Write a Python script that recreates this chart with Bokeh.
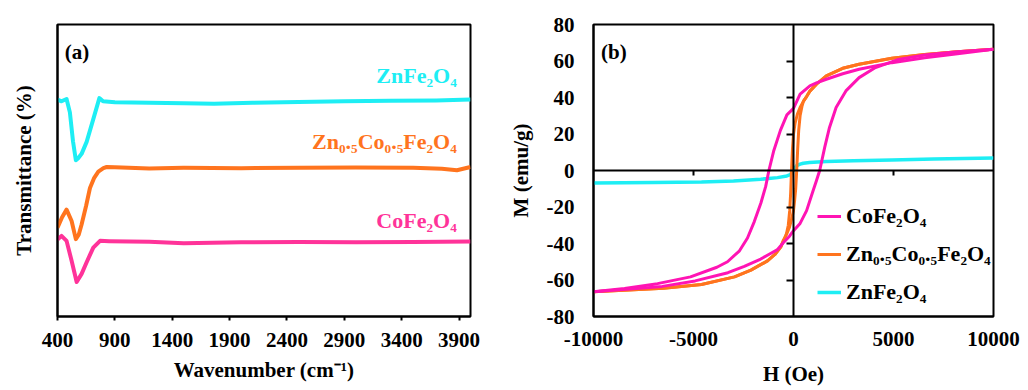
from bokeh.plotting import figure
from bokeh.models import Range1d, FixedTicker, LinearAxis, Label, Legend, LegendItem
from bokeh.layouts import row
from bokeh.embed import file_html
from bokeh.resources import INLINE

FONT = "Liberation Serif"

# ---------------- (a) FTIR data ----------------
ftir_ticks = [400, 900, 1400, 1900, 2400, 2900, 3400, 3900]

wn_zn = [400, 435, 479, 508, 535, 560, 580, 610, 654, 712, 765, 797, 900, 1200, 1500, 1765, 2100, 2500, 2900, 3300, 3700, 4000]
t_zn = [74.3, 73.7, 74.5, 69.9, 60.0, 53.5, 54.2, 55.7, 59.8, 67.6, 74.8, 73.7, 73.4, 73.2, 73.0, 72.9, 73.2, 73.5, 73.7, 73.9, 74.0, 74.3]

wn_znco = [400, 440, 479, 523, 560, 585, 610, 650, 683, 720, 756, 800, 829, 900, 1200, 1500, 2000, 2500, 3000, 3500, 3750, 3882, 4000]
t_znco = [30.4, 34.0, 36.6, 32.7, 26.5, 28.0, 31.5, 38.0, 44.0, 47.5, 49.6, 50.8, 51.2, 51.1, 50.7, 50.9, 50.8, 50.9, 51.0, 50.9, 50.6, 50.1, 51.2]

wn_co = [400, 435, 479, 523, 567, 610, 654, 712, 771, 850, 1200, 1500, 2000, 2500, 3000, 3500, 4000]
t_co = [26.4, 27.6, 25.9, 19.1, 11.8, 14.6, 18.6, 23.6, 25.9, 25.8, 25.6, 25.1, 25.4, 25.5, 25.4, 25.5, 25.7]

ftir_names = ["ZnFe\u2082O\u2084", "Zn\u2080.\u2085Co\u2080.\u2085Fe\u2082O\u2084", "CoFe\u2082O\u2084"]

# ---------------- (b) VSM data ----------------
vsm_xticks = [-10000, -5000, 0, 5000, 10000]
vsm_yticks = [-80, -60, -40, -20, 0, 20, 40, 60, 80]

h_co_down = [10000, 8200, 6560, 4920, 3280, 2460, 1640, 1150, 820, 330, 0, -330, -655, -983, -1230, -1390, -1630, -1960, -2300, -2700, -3300, -3830, -5150, -6800, -8450, -10000]
m_co_down = [66.4, 64.0, 61.8, 59.1, 55.5, 53.0, 50.0, 48.0, 46.4, 41.8, 34.0, 30.5, 22.0, 11.0, 0.0, -8.7, -17.8, -28.0, -37.0, -44.0, -50.0, -53.0, -58.3, -62.0, -64.6, -66.4]
h_co_up = [-10000, -8200, -6560, -4920, -3280, -2460, -1640, -1150, -820, -500, -200, 0, 330, 655, 983, 1150, 1310, 1560, 1800, 2130, 2620, 3280, 4100, 5250, 6560, 8200, 10000]
m_co_up = [-66.4, -65.0, -63.5, -60.5, -56.0, -52.5, -48.5, -45.5, -43.5, -39.5, -36.0, -33.0, -29.0, -22.0, -11.0, -5.5, 0.0, 12.7, 23.6, 34.5, 43.6, 50.9, 56.4, 60.9, 63.3, 65.1, 66.4]

h_znco_down = [10000, 8200, 6560, 4920, 3280, 2460, 1640, 1150, 820, 655, 500, 350, 200, 80, 0, -50, -100, -140, -190, -260, -350, -430, -640, -930, -1300, -2130, -2950, -4600, -6500, -8500, -10000]
m_znco_down = [66.4, 65.1, 63.6, 61.5, 58.2, 56.0, 51.8, 47.3, 43.5, 40.5, 38.0, 35.0, 31.0, 26.0, 20.0, 12.0, 0.0, -12.0, -22.0, -30.0, -34.5, -37.0, -42.0, -46.0, -49.5, -54.6, -58.3, -62.5, -64.5, -65.6, -66.4]
h_znco_up = [-10000, -8500, -6500, -4600, -2950, -2130, -1300, -930, -640, -500, -350, -200, -80, 0, 60, 110, 160, 210, 260, 330, 420, 500, 655, 820, 1150, 1640, 2460, 3280, 4920, 6560, 8200, 10000]
m_znco_up = [-66.4, -65.6, -64.5, -62.5, -58.3, -54.6, -49.5, -46.0, -42.0, -38.0, -35.0, -31.0, -26.0, -22.0, -16.0, -10.0, 0.0, 12.0, 22.0, 30.0, 35.0, 38.0, 40.5, 43.5, 47.3, 51.8, 56.0, 58.2, 61.5, 63.6, 65.1, 66.4]

h_zn = [-10000, -7000, -4600, -3000, -1640, -800, -330, -160, -80, 0, 80, 160, 330, 490, 800, 1640, 3000, 4920, 7000, 10000]
m_zn = [-6.9, -6.6, -6.3, -5.7, -4.8, -3.9, -3.0, -2.3, -1.2, 0.3, 1.5, 2.7, 3.5, 4.0, 4.4, 4.9, 5.3, 5.8, 6.3, 6.9]

vsm_names = ["CoFe\u2082O\u2084", "Zn\u2080.\u2085Co\u2080.\u2085Fe\u2082O\u2084", "ZnFe\u2082O\u2084"]

C_CYAN = "#1EEEF4"
C_ORANGE = "#FF741E"
C_PINK_A = "#FF3399"
C_PINK_B = "#FF14B4"


def style_common(p):
    p.grid.visible = False
    p.outline_line_color = "black"
    p.outline_line_width = 2
    p.background_fill_color = "white"
    p.border_fill_color = "white"
    for ax in p.axis:
        ax.major_label_text_font = FONT
        ax.major_label_text_font_style = "bold"
        ax.major_label_text_font_size = "21px"
        ax.major_label_text_color = "black"
        ax.axis_label_text_font = FONT
        ax.axis_label_text_font_style = "bold"
        ax.axis_label_text_font_size = "21px"
        ax.axis_label_text_color = "black"
        ax.minor_tick_line_color = None
        ax.axis_line_color = "black"
        ax.axis_line_width = 2
        ax.major_tick_line_color = "black"
        ax.major_tick_line_width = 2


# ---------------- figure (a) ----------------
p1 = figure(width=505, height=390, x_range=Range1d(400, 4000), y_range=Range1d(0, 100),
            output_backend="svg", toolbar_location=None,
            min_border_left=57, min_border_right=35, min_border_top=24, min_border_bottom=70)
style_common(p1)
p1.xaxis.ticker = FixedTicker(ticks=ftir_ticks)
p1.xaxis.major_tick_in = 0
p1.xaxis.major_tick_out = 4
p1.xaxis.major_label_standoff = 12
p1.xaxis.axis_label = "Wavenumber (cm\u207B\u00B9)"
p1.xaxis.axis_label_standoff = 8
p1.yaxis.ticker = FixedTicker(ticks=[])
p1.yaxis.major_tick_out = 0
p1.yaxis.major_tick_in = 0
p1.yaxis.axis_label = "Transmittance (%)"
p1.yaxis.axis_label_standoff = 22

p1.line(wn_zn, t_zn, line_color=C_CYAN, line_width=4, line_join="round")
p1.line(wn_znco, t_znco, line_color=C_ORANGE, line_width=4, line_join="round")
p1.line(wn_co, t_co, line_color=C_PINK_A, line_width=4, line_join="round")

for name, ly, col in zip(ftir_names, [82.5, 60.1, 32.8], [C_CYAN, C_ORANGE, C_PINK_A]):
    p1.add_layout(Label(x=3880, y=ly, text=name, text_align="right", text_baseline="alphabetic",
                        text_font=FONT, text_font_style="bold", text_font_size="22px",
                        text_color=col))
p1.add_layout(Label(x=464, y=90.5, text="(a)", text_align="left", text_baseline="alphabetic",
                    text_font=FONT, text_font_style="bold", text_font_size="21px", text_color="black"))

# ---------------- figure (b) ----------------
p2 = figure(width=523, height=390, x_range=Range1d(-10000, 10000), y_range=Range1d(-80, 80),
            output_backend="svg", toolbar_location=None,
            min_border_left=84, min_border_right=35, min_border_top=23, min_border_bottom=74)
p2.xaxis.ticker = FixedTicker(ticks=vsm_xticks)
p2.yaxis.ticker = FixedTicker(ticks=vsm_yticks)
p2.xaxis.major_label_overrides = {v: str(v) for v in vsm_xticks}
p2.yaxis.major_label_overrides = {v: str(v) for v in vsm_yticks}
p2.xaxis.axis_label = "H (Oe)"
p2.yaxis.axis_label = "M (emu/g)"
style_common(p2)
for ax in p2.axis:
    ax.major_tick_in = 0
    ax.major_tick_out = 0
p2.xaxis.major_label_standoff = 15
p2.yaxis.major_label_standoff = 19
p2.xaxis.axis_label_standoff = 13
p2.yaxis.axis_label_standoff = 11

ax_v = LinearAxis(fixed_location=0, ticker=FixedTicker(ticks=[-60, -40, -20, 20, 40, 60]),
                  major_tick_in=0, major_tick_out=7, major_tick_line_width=2,
                  major_label_text_font_size="0px", major_label_text_color=None,
                  minor_tick_line_color=None, axis_line_width=2, axis_line_color="black")
p2.add_layout(ax_v, "left")
ax_h = LinearAxis(fixed_location=0, ticker=FixedTicker(ticks=[-5000, 5000]),
                  major_tick_in=0, major_tick_out=5, major_tick_line_width=2,
                  major_label_text_font_size="0px", major_label_text_color=None,
                  minor_tick_line_color=None, axis_line_width=2, axis_line_color="black")
p2.add_layout(ax_h, "below")

r_zn = p2.line(h_zn, m_zn, line_color=C_CYAN, line_width=3.5, line_join="round")
r_znco1 = p2.line(h_znco_down, m_znco_down, line_color=C_ORANGE, line_width=3, line_join="round")
r_znco2 = p2.line(h_znco_up, m_znco_up, line_color=C_ORANGE, line_width=3, line_join="round")
r_co1 = p2.line(h_co_down, m_co_down, line_color=C_PINK_B, line_width=3, line_join="round")
r_co2 = p2.line(h_co_up, m_co_up, line_color=C_PINK_B, line_width=3, line_join="round")

p2.add_layout(Label(x=-9620, y=64.7, text="(b)", text_align="left", text_baseline="alphabetic",
                    text_font=FONT, text_font_style="bold", text_font_size="21px", text_color="black"))

legend = Legend(items=[LegendItem(label=vsm_names[0], renderers=[r_co1]),
                       LegendItem(label=vsm_names[1], renderers=[r_znco1]),
                       LegendItem(label=vsm_names[2], renderers=[r_zn])],
                location=(224, 11), glyph_width=24, glyph_height=20, label_height=20,
                spacing=12, padding=0, margin=0, label_standoff=5,
                border_line_color=None, background_fill_alpha=0,
                label_text_font=FONT, label_text_font_style="bold", label_text_font_size="22px",
                label_text_color="black")
p2.add_layout(legend)

layout = row(p1, p2)
open("out.html", "w").write(file_html(layout, INLINE))
